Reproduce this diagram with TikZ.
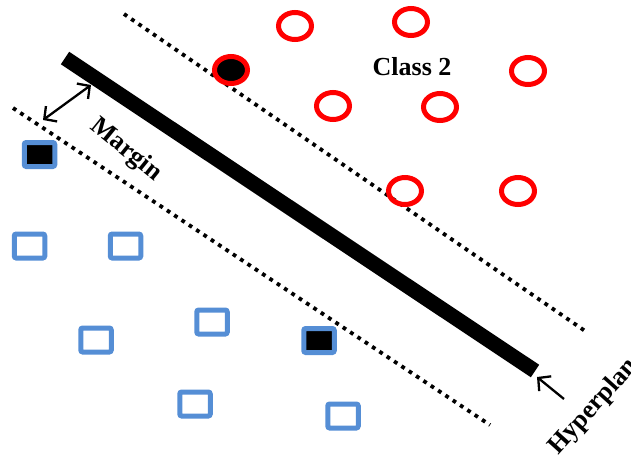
\documentclass[tikz,border=0pt]{standalone}
\usepackage{fontspec}
\setmainfont{Liberation Serif}
\usetikzlibrary{shapes.geometric,arrows.meta}
\definecolor{ptblue}{RGB}{85,142,213}
\definecolor{ptred}{RGB}{255,0,0}
\begin{document}
\begin{tikzpicture}[x=1pt,y=-1pt,
  redpt/.style={ellipse,draw=ptred,line width=5pt,minimum width=33pt,minimum height=27pt,inner sep=0pt},
  bluept/.style={rectangle,rounded corners=2pt,draw=ptblue,line width=5pt,minimum width=30.5pt,minimum height=24pt,inner sep=0pt},
  support/.style={fill=black},
  boundary/.style={line width=3.8pt,dash pattern=on 3.8pt off 5pt},
  barb/.tip={Straight Barb[length=9pt,width=19pt,line width=2.3pt]},
  pointer/.style={line width=2.3pt,-barb},
  lbl/.style={font=\bfseries\fontsize{26}{28}\selectfont,inner sep=0pt}]
\useasboundingbox (0,0) rectangle (631,459);

% margin boundaries
\coordinate (u1) at (124,14);  \coordinate (u2) at (588,333);
\coordinate (l1) at (13,108);  \coordinate (l2) at (490,425);
\draw[boundary] (u1) -- (u2);
\draw[boundary] (l1) -- (l2);

% separating hyperplane
\coordinate (hpA) at (65,58);
\coordinate (hpB) at (535,371);
\draw[line width=15pt] (hpA) -- (hpB);

% class 2 points
\node[redpt] (c1) at (295,26) {};
\node[redpt] (c2) at (411,22) {};
\node[redpt] (c3) at (528,71) {};
\node[redpt] (c4) at (333,106) {};
\node[redpt] (c5) at (440,107) {};
\node[redpt] (c6) at (405,191) {};
\node[redpt] (c7) at (518,191) {};
\node[redpt,support] (c8) at (231,70) {};

% class 1 points
\node[bluept,support] (s1) at (39.5,154.5) {};
\node[bluept] (s2) at (29.5,246) {};
\node[bluept] (s3) at (125.5,246) {};
\node[bluept] (s4) at (96,340) {};
\node[bluept] (s5) at (212,322) {};
\node[bluept,support] (s6) at (319,340.5) {};
\node[bluept] (s7) at (195,404) {};
\node[bluept] (s8) at (343,416) {};

% labels
\node[lbl] (cls) at (412,67) {Class 2};
\node[lbl,rotate=-39] (mg) at (126,150) {Margin};
\node[lbl,rotate=48,anchor=base west] (hp) at (558,456) {Hyperplane};

% margin width arrow
\coordinate (m1) at (43,120);
\coordinate (m2) at (91,85);
\draw[line width=2.3pt,barb-barb] (m1) -- (m2);

% hyperplane pointer
\coordinate (h1) at (564,399);
\coordinate (h2) at (537,377);
\draw[pointer] (h1) -- (h2);
\end{tikzpicture}
\end{document}
